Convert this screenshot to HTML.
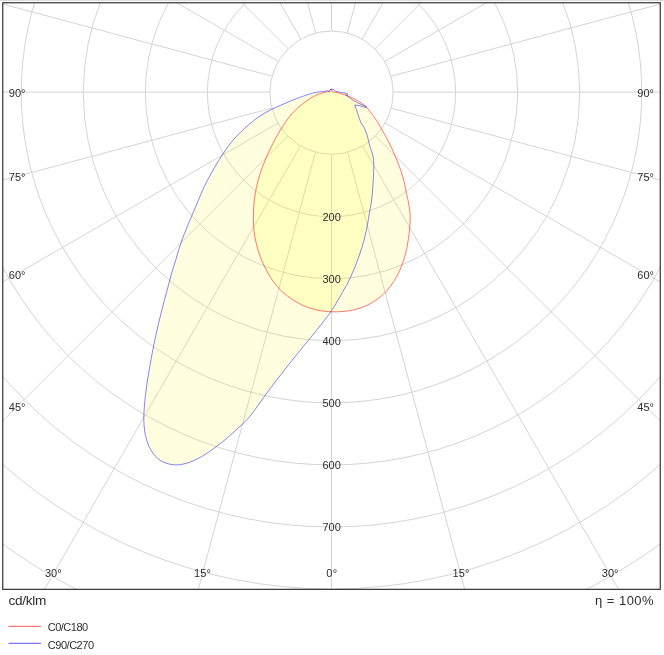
<!DOCTYPE html>
<html lang="en"><head><meta charset="utf-8"><title>Polar intensity diagram</title>
<style>html,body{margin:0;padding:0;background:#fff;}svg{display:block;}text{font-family:"Liberation Sans","DejaVu Sans",sans-serif;fill:#2e2e2e;}</style></head><body>
<svg width="664" height="655" viewBox="0 0 664 655">
<rect width="664" height="655" fill="#fff"/>
<rect x="0" y="0" width="664" height="1" fill="#dcdcdc"/>
<defs><clipPath id="fr"><rect x="2.75" y="2.75" width="657.50" height="586.60"/></clipPath></defs>
<g clip-path="url(#fr)">
<g fill="none" stroke="#d4d4d4" stroke-width="1.0">
<circle cx="331.50" cy="92.63" r="61.64"/>
<circle cx="331.50" cy="92.63" r="124.10"/>
<circle cx="331.50" cy="92.63" r="186.15"/>
<circle cx="331.50" cy="92.63" r="248.20"/>
<circle cx="331.50" cy="92.63" r="310.25"/>
<circle cx="331.50" cy="92.63" r="372.30"/>
<circle cx="331.50" cy="92.63" r="434.35"/>
<circle cx="331.50" cy="92.63" r="496.40"/>
<circle cx="331.50" cy="92.63" r="558.45"/>
<circle cx="331.50" cy="92.63" r="620.50"/>
<line x1="331.50" y1="154.27" x2="331.50" y2="792.14"/>
<line x1="347.58" y1="152.14" x2="512.67" y2="768.29"/>
<line x1="362.53" y1="145.89" x2="681.50" y2="698.36"/>
<line x1="375.33" y1="135.97" x2="826.47" y2="587.11"/>
<line x1="385.09" y1="123.08" x2="937.72" y2="442.14"/>
<line x1="391.16" y1="108.13" x2="1007.65" y2="273.31"/>
<line x1="393.14" y1="92.14" x2="1031.50" y2="92.14"/>
<line x1="390.92" y1="76.22" x2="1007.65" y2="-89.03"/>
<line x1="384.67" y1="61.44" x2="937.72" y2="-257.86"/>
<line x1="374.84" y1="48.80" x2="826.47" y2="-402.83"/>
<line x1="362.11" y1="39.13" x2="681.50" y2="-514.08"/>
<line x1="347.33" y1="33.06" x2="512.67" y2="-584.01"/>
<line x1="331.50" y1="30.99" x2="331.50" y2="-607.86"/>
<line x1="315.67" y1="33.06" x2="150.33" y2="-584.01"/>
<line x1="300.89" y1="39.13" x2="-18.50" y2="-514.08"/>
<line x1="288.16" y1="48.80" x2="-163.47" y2="-402.83"/>
<line x1="278.33" y1="61.44" x2="-274.72" y2="-257.86"/>
<line x1="272.08" y1="76.22" x2="-344.65" y2="-89.03"/>
<line x1="269.86" y1="92.14" x2="-368.50" y2="92.14"/>
<line x1="271.84" y1="108.13" x2="-344.65" y2="273.31"/>
<line x1="277.91" y1="123.08" x2="-274.72" y2="442.14"/>
<line x1="287.67" y1="135.97" x2="-163.47" y2="587.11"/>
<line x1="300.47" y1="145.89" x2="-18.50" y2="698.36"/>
<line x1="315.42" y1="152.14" x2="150.33" y2="768.29"/>
</g>
<path d="M332.10 91.80 C332.98 91.95 335.47 92.27 337.40 92.70 C339.33 93.13 341.58 93.70 343.70 94.40 C345.82 95.10 347.98 95.97 350.10 96.90 C352.22 97.83 354.30 98.83 356.40 100.00 C358.50 101.17 360.95 102.63 362.70 103.90 C364.45 105.17 365.50 106.10 366.90 107.60 C368.30 109.10 369.68 111.05 371.10 112.90 C372.52 114.75 373.98 116.60 375.40 118.70 C376.82 120.80 377.68 122.18 379.60 125.50 C381.52 128.82 384.77 134.58 386.90 138.60 C389.03 142.62 390.72 145.93 392.40 149.60 C394.08 153.27 395.53 156.93 397.00 160.60 C398.47 164.27 399.98 167.93 401.20 171.60 C402.42 175.27 403.42 178.93 404.30 182.60 C405.18 186.27 405.78 190.20 406.50 193.60 C407.22 197.00 408.02 199.77 408.60 203.00 C409.18 206.23 409.75 209.83 410.00 213.00 C410.25 216.17 410.23 218.67 410.10 222.00 C409.97 225.33 409.62 229.33 409.20 233.00 C408.78 236.67 408.27 240.33 407.60 244.00 C406.93 247.67 406.15 251.50 405.20 255.00 C404.25 258.50 403.27 261.50 401.90 265.00 C400.53 268.50 398.90 272.48 397.00 276.00 C395.10 279.52 392.80 283.03 390.50 286.10 C388.20 289.17 385.78 291.95 383.20 294.40 C380.62 296.85 377.90 298.88 375.00 300.80 C372.10 302.72 369.17 304.43 365.80 305.90 C362.43 307.37 358.47 308.68 354.80 309.60 C351.13 310.52 347.62 311.03 343.80 311.40 C339.98 311.77 335.60 311.88 331.90 311.80 C328.20 311.72 324.85 311.38 321.60 310.90 C318.35 310.42 315.45 309.78 312.40 308.90 C309.35 308.02 306.35 306.98 303.30 305.60 C300.25 304.22 296.85 302.28 294.10 300.60 C291.35 298.92 289.08 297.27 286.80 295.50 C284.52 293.73 282.70 292.42 280.40 290.00 C278.10 287.58 275.08 283.83 273.00 281.00 C270.92 278.17 269.65 276.12 267.90 273.00 C266.15 269.88 264.12 266.05 262.50 262.30 C260.88 258.55 259.45 254.60 258.20 250.50 C256.95 246.40 255.78 241.97 255.00 237.70 C254.22 233.43 253.75 229.53 253.50 224.90 C253.25 220.27 253.25 214.88 253.50 209.90 C253.75 204.92 254.22 199.98 255.00 195.00 C255.78 190.02 256.87 184.92 258.20 180.00 C259.53 175.08 261.30 170.05 263.00 165.50 C264.70 160.95 266.43 156.98 268.40 152.70 C270.37 148.42 272.48 144.08 274.80 139.80 C277.12 135.52 279.80 130.92 282.30 127.00 C284.80 123.08 287.13 119.57 289.80 116.30 C292.47 113.03 295.45 110.00 298.30 107.40 C301.15 104.80 304.07 102.67 306.90 100.70 C309.73 98.73 313.03 96.82 315.30 95.60 C317.57 94.38 318.75 94.00 320.50 93.40 C322.25 92.80 324.30 92.30 325.80 92.00 C327.30 91.70 328.88 91.67 329.50 91.60 L330.60 89.50 L331.60 89.20 L332.10 91.80Z" fill="rgba(255,255,0,0.125)" stroke="none"/>
<path d="M331.60 89.00 C331.33 89.12 330.35 89.23 330.00 89.70 C329.65 90.17 329.93 91.62 329.50 91.80 C329.07 91.98 328.55 90.85 327.40 90.80 C326.25 90.75 324.45 91.25 322.60 91.50 C320.75 91.75 318.22 91.95 316.30 92.30 C314.38 92.65 313.38 92.92 311.10 93.60 C308.82 94.28 305.80 95.25 302.60 96.40 C299.40 97.55 295.47 99.07 291.90 100.50 C288.33 101.93 284.77 103.43 281.20 105.00 C277.63 106.57 273.70 108.27 270.50 109.90 C267.30 111.53 264.85 112.98 262.00 114.80 C259.15 116.62 256.25 118.58 253.40 120.80 C250.55 123.02 247.75 125.47 244.90 128.10 C242.05 130.73 238.80 133.93 236.30 136.60 C233.80 139.27 232.22 141.07 229.90 144.10 C227.58 147.13 224.88 151.05 222.40 154.80 C219.92 158.55 217.32 162.68 215.00 166.60 C212.68 170.52 210.47 174.57 208.50 178.30 C206.53 182.03 205.42 184.08 203.20 189.00 C200.98 193.92 197.43 202.53 195.20 207.80 C192.97 213.07 191.58 216.33 189.80 220.60 C188.02 224.87 186.10 229.30 184.50 233.40 C182.90 237.50 181.62 240.92 180.20 245.20 C178.78 249.48 177.42 254.47 176.00 259.10 C174.58 263.73 173.03 268.37 171.70 273.00 C170.37 277.63 169.25 282.23 168.00 286.90 C166.75 291.57 165.43 296.32 164.20 301.00 C162.97 305.68 161.83 310.00 160.60 315.00 C159.37 320.00 157.97 325.83 156.80 331.00 C155.63 336.17 154.63 340.83 153.60 346.00 C152.57 351.17 151.57 356.67 150.60 362.00 C149.63 367.33 148.63 372.67 147.80 378.00 C146.97 383.33 146.20 388.83 145.60 394.00 C145.00 399.17 144.50 404.67 144.20 409.00 C143.90 413.33 143.72 416.32 143.80 420.00 C143.88 423.68 144.25 427.87 144.70 431.10 C145.15 434.33 145.75 436.80 146.50 439.40 C147.25 442.00 148.13 444.42 149.20 446.70 C150.27 448.98 151.52 451.17 152.90 453.10 C154.28 455.03 155.82 456.83 157.50 458.30 C159.18 459.77 161.02 460.93 163.00 461.90 C164.98 462.87 167.27 463.60 169.40 464.10 C171.53 464.60 173.52 464.90 175.80 464.90 C178.08 464.90 180.65 464.60 183.10 464.10 C185.55 463.60 188.05 462.82 190.50 461.90 C192.95 460.98 195.37 459.85 197.80 458.60 C200.23 457.35 202.67 455.92 205.10 454.40 C207.53 452.88 209.95 451.23 212.40 449.50 C214.85 447.77 217.35 445.90 219.80 444.00 C222.25 442.10 224.67 440.18 227.10 438.10 C229.53 436.02 231.95 433.73 234.40 431.50 C236.85 429.27 239.45 426.95 241.80 424.70 C244.15 422.45 246.13 420.73 248.50 418.00 C250.87 415.27 253.28 411.98 256.00 408.30 C258.72 404.62 261.50 400.43 264.80 395.90 C268.10 391.37 272.13 385.92 275.80 381.10 C279.47 376.28 283.13 371.65 286.80 367.00 C290.47 362.35 294.13 357.73 297.80 353.20 C301.47 348.67 304.83 344.68 308.80 339.80 C312.77 334.92 317.78 328.78 321.60 323.90 C325.42 319.02 329.07 314.32 331.70 310.50 C334.33 306.68 335.38 304.42 337.40 301.00 C339.42 297.58 342.12 292.93 343.80 290.00 C345.48 287.07 345.82 286.80 347.50 283.40 C349.18 280.00 351.92 274.33 353.90 269.60 C355.88 264.87 357.72 259.88 359.40 255.00 C361.08 250.12 362.68 245.20 364.00 240.30 C365.32 235.40 366.33 230.48 367.30 225.60 C368.27 220.72 369.03 215.60 369.80 211.00 C370.57 206.40 371.35 202.73 371.90 198.00 C372.45 193.27 372.80 187.00 373.10 182.60 C373.40 178.20 373.60 175.03 373.70 171.60 C373.80 168.17 373.83 164.62 373.70 162.00 C373.57 159.38 373.25 157.68 372.90 155.90 C372.55 154.12 372.13 152.98 371.60 151.30 C371.07 149.62 370.23 147.63 369.70 145.80 C369.17 143.97 368.85 142.13 368.40 140.30 C367.95 138.47 367.52 136.48 367.00 134.80 C366.48 133.12 365.83 131.50 365.30 130.20 C364.77 128.90 364.37 127.98 363.80 127.00 C363.23 126.02 362.52 125.37 361.90 124.30 C361.28 123.23 360.63 121.90 360.10 120.60 C359.57 119.30 359.23 118.10 358.70 116.50 C358.17 114.90 357.57 112.92 356.90 111.00 C356.23 109.08 355.07 106.00 354.70 105.00 L358.50 105.50 L362.70 106.60 L365.90 107.60 L366.70 106.60 L364.80 106.00 L358.50 103.20 L352.20 99.70 L345.80 95.00 L346.90 95.50 L348.00 94.10 L344.80 93.10 L340.60 92.30 L335.80 91.30 L333.70 89.70 L331.60 89.00Z" fill="rgba(255,255,0,0.125)" stroke="none"/>
<path d="M332.10 91.80 C332.98 91.95 335.47 92.27 337.40 92.70 C339.33 93.13 341.58 93.70 343.70 94.40 C345.82 95.10 347.98 95.97 350.10 96.90 C352.22 97.83 354.30 98.83 356.40 100.00 C358.50 101.17 360.95 102.63 362.70 103.90 C364.45 105.17 365.50 106.10 366.90 107.60 C368.30 109.10 369.68 111.05 371.10 112.90 C372.52 114.75 373.98 116.60 375.40 118.70 C376.82 120.80 377.68 122.18 379.60 125.50 C381.52 128.82 384.77 134.58 386.90 138.60 C389.03 142.62 390.72 145.93 392.40 149.60 C394.08 153.27 395.53 156.93 397.00 160.60 C398.47 164.27 399.98 167.93 401.20 171.60 C402.42 175.27 403.42 178.93 404.30 182.60 C405.18 186.27 405.78 190.20 406.50 193.60 C407.22 197.00 408.02 199.77 408.60 203.00 C409.18 206.23 409.75 209.83 410.00 213.00 C410.25 216.17 410.23 218.67 410.10 222.00 C409.97 225.33 409.62 229.33 409.20 233.00 C408.78 236.67 408.27 240.33 407.60 244.00 C406.93 247.67 406.15 251.50 405.20 255.00 C404.25 258.50 403.27 261.50 401.90 265.00 C400.53 268.50 398.90 272.48 397.00 276.00 C395.10 279.52 392.80 283.03 390.50 286.10 C388.20 289.17 385.78 291.95 383.20 294.40 C380.62 296.85 377.90 298.88 375.00 300.80 C372.10 302.72 369.17 304.43 365.80 305.90 C362.43 307.37 358.47 308.68 354.80 309.60 C351.13 310.52 347.62 311.03 343.80 311.40 C339.98 311.77 335.60 311.88 331.90 311.80 C328.20 311.72 324.85 311.38 321.60 310.90 C318.35 310.42 315.45 309.78 312.40 308.90 C309.35 308.02 306.35 306.98 303.30 305.60 C300.25 304.22 296.85 302.28 294.10 300.60 C291.35 298.92 289.08 297.27 286.80 295.50 C284.52 293.73 282.70 292.42 280.40 290.00 C278.10 287.58 275.08 283.83 273.00 281.00 C270.92 278.17 269.65 276.12 267.90 273.00 C266.15 269.88 264.12 266.05 262.50 262.30 C260.88 258.55 259.45 254.60 258.20 250.50 C256.95 246.40 255.78 241.97 255.00 237.70 C254.22 233.43 253.75 229.53 253.50 224.90 C253.25 220.27 253.25 214.88 253.50 209.90 C253.75 204.92 254.22 199.98 255.00 195.00 C255.78 190.02 256.87 184.92 258.20 180.00 C259.53 175.08 261.30 170.05 263.00 165.50 C264.70 160.95 266.43 156.98 268.40 152.70 C270.37 148.42 272.48 144.08 274.80 139.80 C277.12 135.52 279.80 130.92 282.30 127.00 C284.80 123.08 287.13 119.57 289.80 116.30 C292.47 113.03 295.45 110.00 298.30 107.40 C301.15 104.80 304.07 102.67 306.90 100.70 C309.73 98.73 313.03 96.82 315.30 95.60 C317.57 94.38 318.75 94.00 320.50 93.40 C322.25 92.80 324.30 92.30 325.80 92.00 C327.30 91.70 328.88 91.67 329.50 91.60 L330.60 89.50 L331.60 89.20 L332.10 91.80Z" fill="none" stroke="rgba(255,30,30,0.6)" stroke-width="1" stroke-linejoin="round"/>
<path d="M331.60 89.00 C331.33 89.12 330.35 89.23 330.00 89.70 C329.65 90.17 329.93 91.62 329.50 91.80 C329.07 91.98 328.55 90.85 327.40 90.80 C326.25 90.75 324.45 91.25 322.60 91.50 C320.75 91.75 318.22 91.95 316.30 92.30 C314.38 92.65 313.38 92.92 311.10 93.60 C308.82 94.28 305.80 95.25 302.60 96.40 C299.40 97.55 295.47 99.07 291.90 100.50 C288.33 101.93 284.77 103.43 281.20 105.00 C277.63 106.57 273.70 108.27 270.50 109.90 C267.30 111.53 264.85 112.98 262.00 114.80 C259.15 116.62 256.25 118.58 253.40 120.80 C250.55 123.02 247.75 125.47 244.90 128.10 C242.05 130.73 238.80 133.93 236.30 136.60 C233.80 139.27 232.22 141.07 229.90 144.10 C227.58 147.13 224.88 151.05 222.40 154.80 C219.92 158.55 217.32 162.68 215.00 166.60 C212.68 170.52 210.47 174.57 208.50 178.30 C206.53 182.03 205.42 184.08 203.20 189.00 C200.98 193.92 197.43 202.53 195.20 207.80 C192.97 213.07 191.58 216.33 189.80 220.60 C188.02 224.87 186.10 229.30 184.50 233.40 C182.90 237.50 181.62 240.92 180.20 245.20 C178.78 249.48 177.42 254.47 176.00 259.10 C174.58 263.73 173.03 268.37 171.70 273.00 C170.37 277.63 169.25 282.23 168.00 286.90 C166.75 291.57 165.43 296.32 164.20 301.00 C162.97 305.68 161.83 310.00 160.60 315.00 C159.37 320.00 157.97 325.83 156.80 331.00 C155.63 336.17 154.63 340.83 153.60 346.00 C152.57 351.17 151.57 356.67 150.60 362.00 C149.63 367.33 148.63 372.67 147.80 378.00 C146.97 383.33 146.20 388.83 145.60 394.00 C145.00 399.17 144.50 404.67 144.20 409.00 C143.90 413.33 143.72 416.32 143.80 420.00 C143.88 423.68 144.25 427.87 144.70 431.10 C145.15 434.33 145.75 436.80 146.50 439.40 C147.25 442.00 148.13 444.42 149.20 446.70 C150.27 448.98 151.52 451.17 152.90 453.10 C154.28 455.03 155.82 456.83 157.50 458.30 C159.18 459.77 161.02 460.93 163.00 461.90 C164.98 462.87 167.27 463.60 169.40 464.10 C171.53 464.60 173.52 464.90 175.80 464.90 C178.08 464.90 180.65 464.60 183.10 464.10 C185.55 463.60 188.05 462.82 190.50 461.90 C192.95 460.98 195.37 459.85 197.80 458.60 C200.23 457.35 202.67 455.92 205.10 454.40 C207.53 452.88 209.95 451.23 212.40 449.50 C214.85 447.77 217.35 445.90 219.80 444.00 C222.25 442.10 224.67 440.18 227.10 438.10 C229.53 436.02 231.95 433.73 234.40 431.50 C236.85 429.27 239.45 426.95 241.80 424.70 C244.15 422.45 246.13 420.73 248.50 418.00 C250.87 415.27 253.28 411.98 256.00 408.30 C258.72 404.62 261.50 400.43 264.80 395.90 C268.10 391.37 272.13 385.92 275.80 381.10 C279.47 376.28 283.13 371.65 286.80 367.00 C290.47 362.35 294.13 357.73 297.80 353.20 C301.47 348.67 304.83 344.68 308.80 339.80 C312.77 334.92 317.78 328.78 321.60 323.90 C325.42 319.02 329.07 314.32 331.70 310.50 C334.33 306.68 335.38 304.42 337.40 301.00 C339.42 297.58 342.12 292.93 343.80 290.00 C345.48 287.07 345.82 286.80 347.50 283.40 C349.18 280.00 351.92 274.33 353.90 269.60 C355.88 264.87 357.72 259.88 359.40 255.00 C361.08 250.12 362.68 245.20 364.00 240.30 C365.32 235.40 366.33 230.48 367.30 225.60 C368.27 220.72 369.03 215.60 369.80 211.00 C370.57 206.40 371.35 202.73 371.90 198.00 C372.45 193.27 372.80 187.00 373.10 182.60 C373.40 178.20 373.60 175.03 373.70 171.60 C373.80 168.17 373.83 164.62 373.70 162.00 C373.57 159.38 373.25 157.68 372.90 155.90 C372.55 154.12 372.13 152.98 371.60 151.30 C371.07 149.62 370.23 147.63 369.70 145.80 C369.17 143.97 368.85 142.13 368.40 140.30 C367.95 138.47 367.52 136.48 367.00 134.80 C366.48 133.12 365.83 131.50 365.30 130.20 C364.77 128.90 364.37 127.98 363.80 127.00 C363.23 126.02 362.52 125.37 361.90 124.30 C361.28 123.23 360.63 121.90 360.10 120.60 C359.57 119.30 359.23 118.10 358.70 116.50 C358.17 114.90 357.57 112.92 356.90 111.00 C356.23 109.08 355.07 106.00 354.70 105.00 L358.50 105.50 L362.70 106.60 L365.90 107.60 L366.70 106.60 L364.80 106.00 L358.50 103.20 L352.20 99.70 L345.80 95.00 L346.90 95.50 L348.00 94.10 L344.80 93.10 L340.60 92.30 L335.80 91.30 L333.70 89.70 L331.60 89.00Z" fill="none" stroke="rgba(45,45,250,0.58)" stroke-width="1" stroke-linejoin="round"/>
</g>
<g font-size="11" text-anchor="middle">
<text x="331.6" y="221.0">200</text>
<text x="331.6" y="283.1">300</text>
<text x="331.6" y="345.1">400</text>
<text x="331.6" y="407.2">500</text>
<text x="331.6" y="469.2">600</text>
<text x="331.6" y="531.3">700</text>
<text x="17.1" y="97.1" textLength="16.8" lengthAdjust="spacing">90°</text>
<text x="645.6" y="97.1" textLength="16.8" lengthAdjust="spacing">90°</text>
<text x="17.1" y="181.3" textLength="16.8" lengthAdjust="spacing">75°</text>
<text x="645.6" y="181.3" textLength="16.8" lengthAdjust="spacing">75°</text>
<text x="17.1" y="278.6" textLength="16.8" lengthAdjust="spacing">60°</text>
<text x="645.6" y="278.6" textLength="16.8" lengthAdjust="spacing">60°</text>
<text x="17.1" y="411.4" textLength="16.8" lengthAdjust="spacing">45°</text>
<text x="645.6" y="411.4" textLength="16.8" lengthAdjust="spacing">45°</text>
<text x="53.3" y="577.2" textLength="16.8" lengthAdjust="spacing">30°</text>
<text x="610.1" y="577.2" textLength="16.8" lengthAdjust="spacing">30°</text>
<text x="202.5" y="577.2" textLength="16.8" lengthAdjust="spacing">15°</text>
<text x="460.9" y="577.2" textLength="16.8" lengthAdjust="spacing">15°</text>
<text x="331.7" y="577.2" textLength="10.8" lengthAdjust="spacing">0°</text>
</g>
<rect x="2.75" y="2.75" width="657.50" height="586.60" fill="none" stroke="#333" stroke-width="1.2"/>
<text x="8.6" y="605.3" font-size="13.6" textLength="37.8" lengthAdjust="spacing">cd/klm</text>
<text x="653.6" y="605.2" font-size="13" text-anchor="end" textLength="58.5" lengthAdjust="spacing">η = 100%</text>
<line x1="8.5" y1="626.3" x2="41" y2="626.3" stroke="#ff7a7a" stroke-width="1.2"/>
<line x1="8.5" y1="643.3" x2="41" y2="643.3" stroke="#7a7aff" stroke-width="1.2"/>
<text x="47.8" y="631.4" font-size="11" textLength="40.3" lengthAdjust="spacing">C0/C180</text>
<text x="47.8" y="648.6" font-size="11" textLength="46.2" lengthAdjust="spacing">C90/C270</text>
</svg></body></html>
